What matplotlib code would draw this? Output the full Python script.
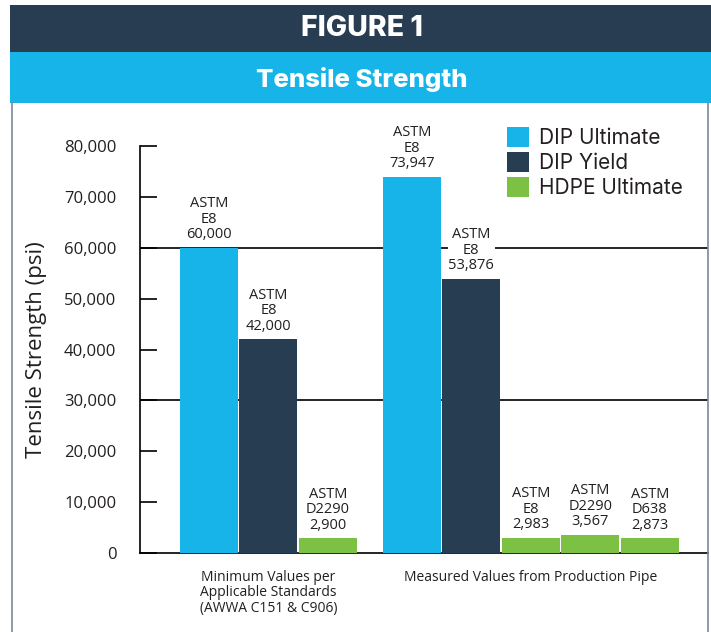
import matplotlib
matplotlib.use("Agg")
import matplotlib.pyplot as plt
from matplotlib.patches import Rectangle, Patch
from matplotlib.lines import Line2D

# data
series = ["DIP Ultimate", "DIP Yield", "HDPE Ultimate"]
colors = ["#16b4e9", "#273d52", "#7cc143"]

group_labels = ["Minimum Values per\nApplicable Standards\n(AWWA C151 & C906)",
                "Measured Values from Production Pipe"]

min_values = [60000, 42000, 2900]
min_standards = ["E8", "E8", "D2290"]
min_series = [0, 1, 2]

meas_values = [73947, 53876, 2983, 3567, 2873]
meas_standards = ["E8", "E8", "E8", "D2290", "D638"]
meas_series = [0, 1, 2, 2, 2]

yticks = [0, 10000, 20000, 30000, 40000, 50000, 60000, 70000, 80000]
gridlines = [30000, 60000]

TXT = "#231f20"
fig = plt.figure(figsize=(7.11, 6.32), dpi=100)

# header bands and panel border
fig.patches.append(Rectangle((10/711, 1-52/632), 701/711, 47/632, transform=fig.transFigure,
                             facecolor="#283d52", edgecolor="none", zorder=0))
fig.patches.append(Rectangle((10/711, 1-103/632), 701/711, 51/632, transform=fig.transFigure,
                             facecolor="#16b4e9", edgecolor="none", zorder=0))
for xp in [12, 708]:
    fig.add_artist(Line2D([xp/711, xp/711], [0, 1-103/632], transform=fig.transFigure,
                          color="#7d8796", lw=1.2))
fig.text(362/711, 1-29/632, "FIGURE 1", ha="center", va="center", color="white",
         fontsize=20.5, fontweight="heavy", family="Inter")
fig.text(362/711, 1-79/632, "Tensile Strength", ha="center", va="center", color="white",
         fontsize=18.5, fontweight="heavy", family="Inter")

ax = fig.add_axes([140/711, 79/632, 568/711, 407/632])

# bar positions in slot units, second group shifted by a gap
width = 0.975
gap = 0.41
pos_min = [i for i in range(len(min_values))]
pos_meas = [len(min_values) + gap + i for i in range(len(meas_values))]

def draw(positions, values, standards, sidx):
    for x, v, s, k in zip(positions, values, standards, sidx):
        ax.bar(x, v, width=width, color=colors[k], zorder=3)
        ax.annotate("ASTM\n%s\n%s" % (s, format(v, ",")), (x, v), xytext=(0, 4),
                    textcoords="offset points", ha="center", va="bottom",
                    fontsize=10.5, color=TXT, family="Open Sans", linespacing=1.05,
                    bbox=dict(facecolor="white", edgecolor="none", pad=0.5), zorder=4)

draw(pos_min, min_values, min_standards, min_series)
draw(pos_meas, meas_values, meas_standards, meas_series)

for g in gridlines:
    ax.axhline(g, color="black", lw=1.2, zorder=1)

ax.set_xlim(-1.16, 8.39)
ax.set_ylim(0, 80000)
ax.set_yticks(yticks)
ax.set_yticklabels([format(t, ",") for t in yticks], family="Open Sans", fontsize=12, color=TXT)
ax.tick_params(axis="y", direction="in", length=12, width=1.2, pad=17)
ax.set_xticks([pos_min[1], pos_meas[2]])
ax.set_xticklabels(group_labels, family="Open Sans", fontsize=10, color=TXT, linespacing=1.05,
                   va="top")
ax.tick_params(axis="x", length=0, pad=12)
for sp in ["top", "right"]:
    ax.spines[sp].set_visible(False)
for sp in ["left", "bottom"]:
    ax.spines[sp].set_linewidth(1.2)
ax.set_ylabel("Tensile Strength (psi)", family="Open Sans", fontsize=16, color=TXT, labelpad=12)

handles = [Patch(facecolor=c, edgecolor="none") for c in colors]
fig.legend(handles, series, loc="upper left", bbox_to_anchor=(497/711, 1-117/632),
           frameon=False, prop={"family": "Inter", "size": 15}, handlelength=1.05,
           handleheight=1.05, handletextpad=0.45, labelspacing=0.2, borderpad=0,
           labelcolor=TXT)

fig.savefig("out.png", dpi=100)
